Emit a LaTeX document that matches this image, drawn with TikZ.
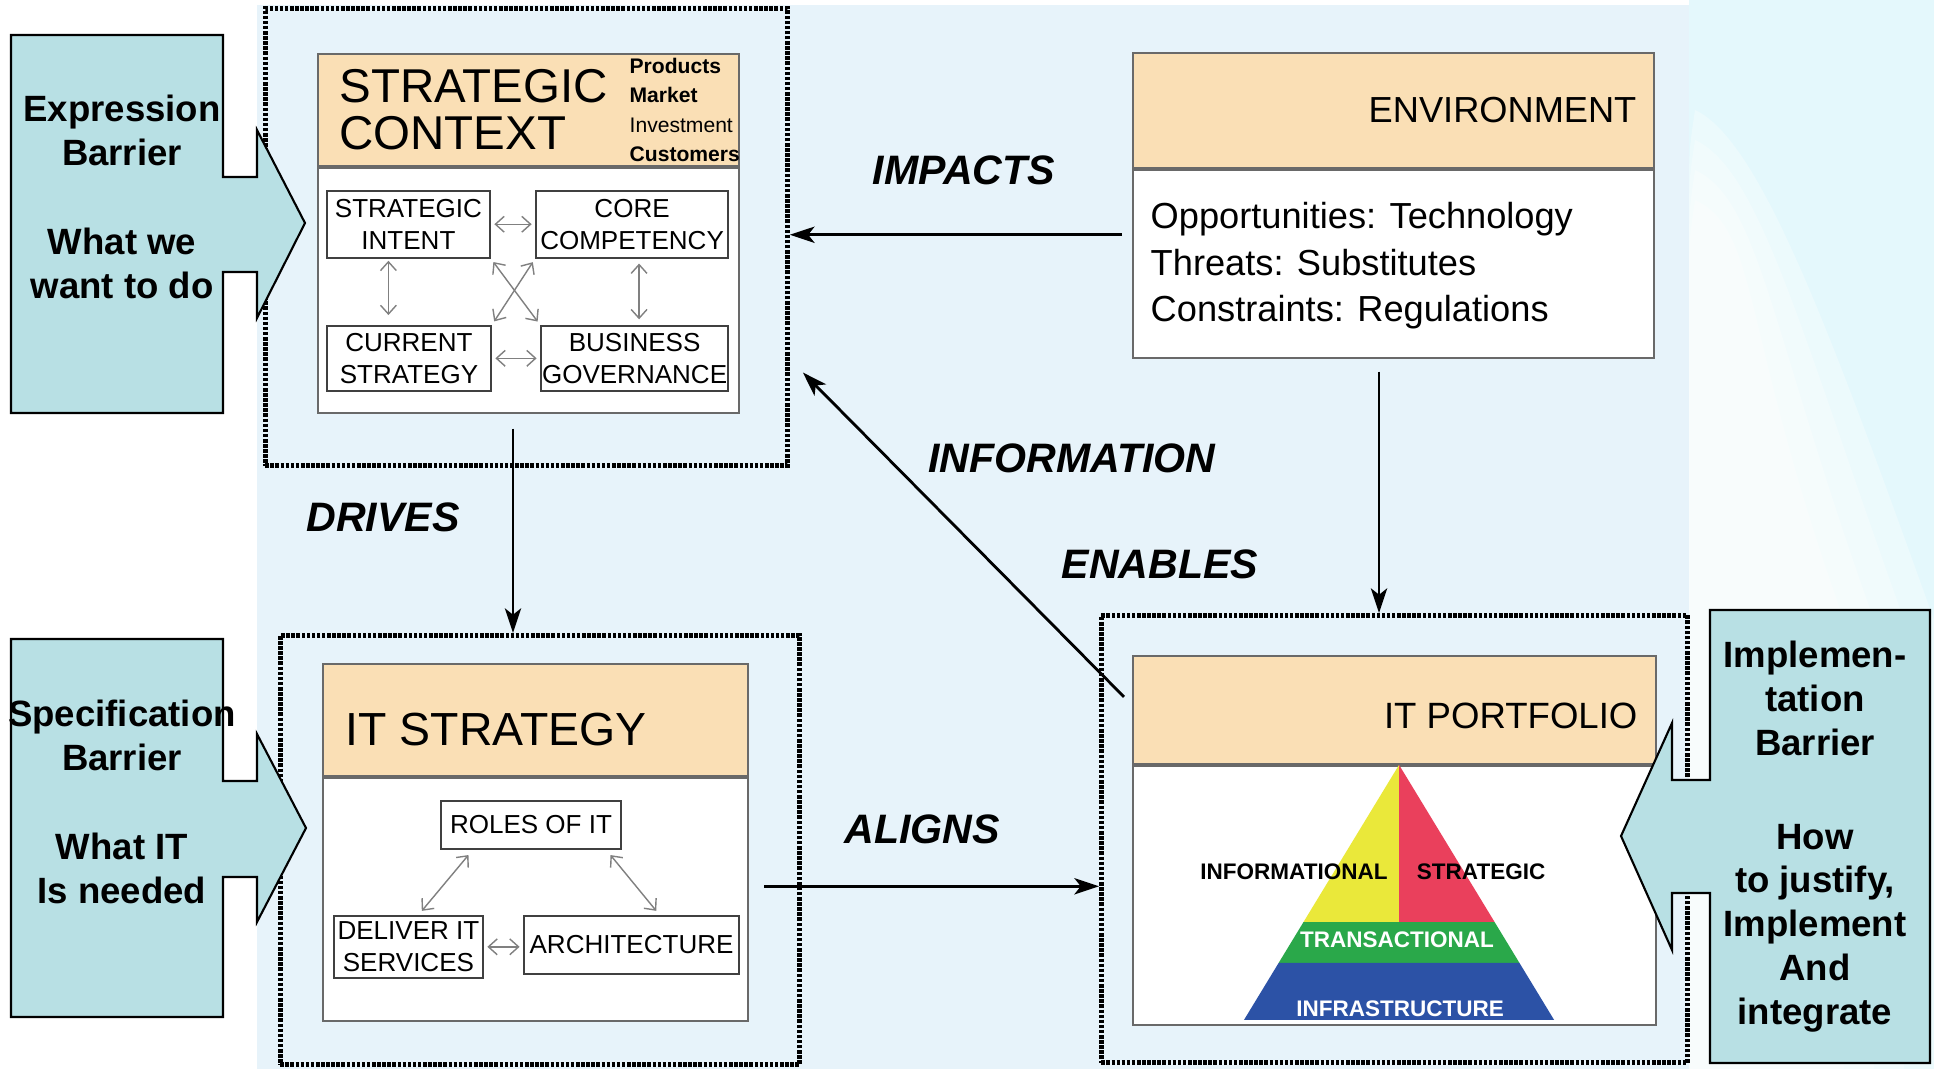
\documentclass[tikz,border=0pt]{standalone}
\usepackage{fontspec}
\setmainfont{Liberation Sans}
\usetikzlibrary{positioning, arrows.meta, calc}

\definecolor{panelblue}{RGB}{231,243,250}
\definecolor{bgcyan}{RGB}{228,248,252}
\definecolor{headertan}{RGB}{250,223,181}
\definecolor{calloutblue}{RGB}{184,224,228}
\definecolor{boxline}{RGB}{105,105,105}
\definecolor{pyryellow}{RGB}{234,232,58}
\definecolor{pyrred}{RGB}{234,64,92}
\definecolor{pyrgreen}{RGB}{42,168,74}
\definecolor{pyrblue}{RGB}{44,82,166}

\begin{document}
\begin{tikzpicture}[x=0.01cm, y=-0.01cm]
            % Define node styles
            \tikzstyle{frame} = [draw, line width=1.3pt, dash pattern=on 1pt off 0.45pt, anchor=north west, inner sep=0pt]
            \tikzstyle{header} = [draw=boxline, line width=0.5pt, fill=headertan, anchor=north west, inner sep=0pt]
            \tikzstyle{body} = [draw=boxline, line width=0.5pt, fill=white, anchor=north west, inner sep=0pt]
            \tikzstyle{sub} = [draw=black!75, line width=0.5pt, fill=white, inner sep=0pt, align=center, font=\fontsize{7.4}{9.1}\selectfont]
            \tikzstyle{subarrow} = [draw=gray, line width=0.4pt, {Straight Barb[length=2.5pt,width=4.5pt]}-{Straight Barb[length=2.5pt,width=4.5pt]}]
            \tikzstyle{mainarrow} = [line width=0.8pt, -{Stealth[length=7pt,width=4.6pt,inset=1.8pt]}]
            \tikzstyle{flowlabel} = [font=\fontsize{11.7}{14}\selectfont\bfseries\itshape]
            \tikzstyle{pyrlabel} = [font=\fontsize{6.4}{7}\selectfont\bfseries, inner sep=0pt]
            \tikzstyle{callout} = [draw, line width=0.6pt, fill=calloutblue]
            \tikzstyle{callouttext} = [font=\fontsize{10.4}{12.5}\selectfont\bfseries, align=center]

            % Background
            \useasboundingbox (0,0) rectangle (1934,1069);
            \fill[white] (0,0) rectangle (1934,1069);
            \fill[bgcyan] (1689,0) rectangle (1934,1069);
            \foreach \d in {0,30,60,90}
                \fill[white, opacity=0.3] (1695,110+\d) .. controls (1760,140+\d) and (1830-\d,330) .. (1934-\d,620) -- (1934-\d,1069) -- (1689,1069) -- (1689,200+\d) .. controls (1689,150+\d) .. (1695,110+\d);
            \fill[panelblue] (257,5) rectangle (1689,1069);

            % Dotted frames
            \node[frame, minimum width=5.22cm, minimum height=4.57cm] (scf) at (263,6) {};
            \node[frame, minimum width=5.19cm, minimum height=4.29cm] (isf) at (278,633) {};
            \node[frame, minimum width=5.86cm, minimum height=4.47cm] (ipf) at (1099,613) {};

            % Strategic context
            \node[header, minimum width=4.21cm, minimum height=1.12cm] (sch) at (317,53) {};
            \node[body, minimum width=4.21cm, minimum height=2.45cm] (scb) at (sch.south west) {};
            \node[anchor=west, align=left, font=\fontsize{13.5}{13.4}\selectfont] (sctitle) at ([xshift=0.1cm]sch.west) {STRATEGIC\\CONTEXT};
            \node[anchor=west, align=left, inner sep=0pt, font=\fontsize{6}{8.35}\selectfont] (sclist) at ([xshift=-1.11cm]sch.east) {\textbf{Products}\\\textbf{Market}\\Investment\\\textbf{Customers}};
            \node[sub, minimum width=1.63cm, minimum height=0.67cm, anchor=north west] (si) at ([xshift=0.09cm, yshift=-0.23cm]scb.north west) {STRATEGIC\\INTENT};
            \node[sub, minimum width=1.92cm, minimum height=0.67cm, anchor=north east] (cc) at ([xshift=-0.11cm, yshift=-0.23cm]scb.north east) {CORE\\COMPETENCY};
            \node[sub, minimum width=1.64cm, minimum height=0.65cm, anchor=south west] (cs) at ([xshift=0.09cm, yshift=0.22cm]scb.south west) {CURRENT\\STRATEGY};
            \node[sub, minimum width=1.87cm, minimum height=0.65cm, anchor=south east] (bg) at ([xshift=-0.11cm, yshift=0.22cm]scb.south east) {BUSINESS\\GOVERNANCE};
            \coordinate (siout) at ([xshift=-0.2cm]si.south);
            \coordinate (ccout) at ([xshift=0.07cm]cc.south);
            \draw[subarrow, shorten <=1pt, shorten >=1pt] (si.east) -- (cc.west);
            \draw[subarrow, shorten <=0.6pt, shorten >=2.8pt] (siout) -- (siout |- cs.north);
            \draw[subarrow, shorten <=1.4pt, shorten >=1.6pt] (ccout) -- (ccout |- bg.north);
            \draw[subarrow, shorten <=1.2pt, shorten >=1.2pt] (si.south east) -- (bg.north west);
            \draw[subarrow, shorten <=1.2pt, shorten >=1.2pt] (cc.south west) -- (cs.north east);
            \draw[subarrow, shorten <=1pt, shorten >=1pt] (cs.east) -- (bg.west);

            % Environment
            \node[header, minimum width=5.21cm, minimum height=1.15cm] (envh) at (1132,52) {};
            \node[body, minimum width=5.21cm, minimum height=1.88cm] (envb) at (envh.south west) {};
            \node[anchor=east, inner sep=0pt, font=\fontsize{10.3}{12}\selectfont] (envtitle) at ([xshift=-0.18cm]envh.east) {ENVIRONMENT};
            \node[anchor=west, align=left, inner sep=0pt, font=\fontsize{10.3}{13.2}\selectfont] (envtxt) at ([xshift=0.18cm, yshift=-0.02cm]envb.west) {Opportunities: Technology\\Threats: Substitutes\\Constraints: Regulations};

            % IT strategy
            \node[header, minimum width=4.25cm, minimum height=1.12cm] (ish) at (322,663) {};
            \node[body, minimum width=4.25cm, minimum height=2.43cm] (isb) at (ish.south west) {};
            \node[anchor=west, inner sep=0pt, font=\fontsize{13.2}{14}\selectfont] (istitle) at ([xshift=0.23cm, yshift=-0.1cm]ish.west) {IT STRATEGY};
            \node[sub, minimum width=1.80cm, minimum height=0.48cm, anchor=north] (roles) at ([xshift=-0.045cm, yshift=-0.23cm]isb.north) {ROLES OF IT};
            \node[sub, minimum width=1.49cm, minimum height=0.62cm, anchor=north west] (deliver) at ([xshift=0.11cm, yshift=-1.38cm]isb.north west) {DELIVER IT\\SERVICES};
            \node[sub, minimum width=2.15cm, minimum height=0.58cm, anchor=north east] (arch) at ([xshift=-0.09cm, yshift=-1.38cm]isb.north east) {ARCHITECTURE};
            \draw[subarrow, shorten <=2pt, shorten >=1.5pt] ([xshift=-0.58cm]roles.south) -- ([xshift=0.1cm]deliver.north);
            \draw[subarrow, shorten <=2pt, shorten >=1.5pt] ([xshift=0.75cm]roles.south) -- ([xshift=0.28cm]arch.north);
            \draw[subarrow, shorten <=1pt, shorten >=1pt] (deliver.east) -- (deliver.east -| arch.west);

            % IT portfolio with the pyramid
            \node[header, minimum width=5.23cm, minimum height=1.08cm] (iph) at (1132,655) {};
            \node[body, minimum width=5.23cm, minimum height=2.59cm] (ipb) at (iph.south west) {};
            \node[anchor=east, inner sep=0pt, font=\fontsize{10.4}{12}\selectfont] (iptitle) at ([xshift=-0.19cm, yshift=-0.06cm]iph.east) {IT PORTFOLIO};
            \coordinate (apex) at ([xshift=0.045cm]ipb.north);
            \coordinate (pl) at ([xshift=-1.55cm, yshift=-2.55cm]apex);
            \coordinate (pr) at ([xshift=1.55cm, yshift=-2.55cm]apex);
            \coordinate (gl) at ($(apex)!0.616!(pl)$);
            \coordinate (gr) at ($(apex)!0.616!(pr)$);
            \coordinate (bl) at ($(apex)!0.776!(pl)$);
            \coordinate (br) at ($(apex)!0.776!(pr)$);
            \coordinate (gm) at (apex |- gl);
            \fill[pyryellow] (apex) -- (gl) -- (gm) -- cycle;
            \fill[pyrred] (apex) -- (gm) -- (gr) -- cycle;
            \fill[pyrgreen] (gl) -- (gr) -- (br) -- (bl) -- cycle;
            \fill[pyrblue] (bl) -- (br) -- (pr) -- (pl) -- cycle;
            \node[pyrlabel] (infolbl) at ([xshift=-1.05cm, yshift=-1.07cm]apex) {INFORMATIONAL};
            \node[pyrlabel] (stratlbl) at ([xshift=0.82cm, yshift=-1.07cm]apex) {STRATEGIC};
            \node[pyrlabel, text=white] (translbl) at ([xshift=-0.02cm, yshift=-1.75cm]apex) {TRANSACTIONAL};
            \node[pyrlabel, text=white] (infralbl) at ([xshift=0.01cm, yshift=-2.44cm]apex) {INFRASTRUCTURE};

            % Connectors between the four blocks
            \coordinate (impactsout) at ([xshift=-0.1cm, yshift=0.29cm]envb.west);
            \coordinate (drivesout) at ([xshift=-0.155cm, yshift=-0.15cm]scb.south);
            \coordinate (envout) at ([xshift=-0.145cm, yshift=-0.13cm]envb.south);
            \coordinate (alignsout) at ([xshift=0.15cm, yshift=0.13cm]isb.east);
            \coordinate (infoout) at ([xshift=-0.08cm, yshift=0.13cm]iph.west);
            \coordinate (infoin) at ([xshift=0.13cm, yshift=-1.355cm]scf.east);
            \draw[mainarrow] (impactsout) -- (impactsout -| scf.east);
            \draw[mainarrow] (drivesout) -- (drivesout |- isf.north);
            \draw[mainarrow] (envout) -- (envout |- ipf.north);
            \draw[mainarrow] (alignsout) -- (alignsout -| ipf.west);
            \draw[mainarrow] (infoout) -- (infoin);

            % Connector labels
            \node[flowlabel] (impacts) at (964,170) {IMPACTS};
            \node[flowlabel] (information) at (1072,458) {INFORMATION};
            \node[flowlabel] (enables) at (1160,564) {ENABLES};
            \node[flowlabel] (drives) at (383,517) {DRIVES};
            \node[flowlabel] (aligns) at (922,829) {ALIGNS};

            % Barrier callouts
            \draw[callout] (11,35) -- (223,35) -- (223,177) -- (257,177) -- (257,130) -- (305,223) -- (257,318) -- (257,272) -- (223,272) -- (223,413) -- (11,413) -- cycle;
            \draw[callout] (11,639) -- (223,639) -- (223,781) -- (257,781) -- (257,734) -- (306,828) -- (257,922) -- (257,877) -- (223,877) -- (223,1017) -- (11,1017) -- cycle;
            \draw[callout] (1930,610) -- (1710,610) -- (1710,780) -- (1672,780) -- (1672,723) -- (1621,836) -- (1672,950) -- (1672,893) -- (1710,893) -- (1710,1063) -- (1930,1063) -- cycle;
            \node[callouttext] (expr) at (122,197) {Expression\\Barrier\\[13pt]What we\\want to do};
            \node[callouttext] (spec) at (122,802) {Specification\\Barrier\\[13pt]What IT\\Is needed};
            \node[callouttext] (impl) at (1815,837) {Implemen-\\tation\\Barrier\\[14pt]How\\to justify,\\Implement\\And\\integrate};

        \end{tikzpicture}
\end{document}
